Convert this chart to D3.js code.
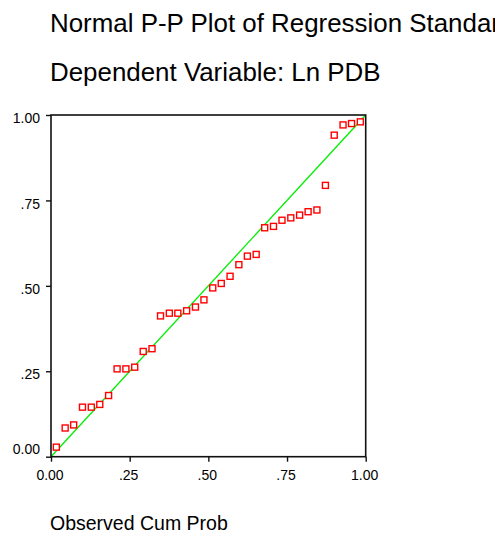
<!DOCTYPE html>
<html>
<head>
<meta charset="utf-8">
<script src="https://cdn.jsdelivr.net/npm/d3@7"></script>
<style>
  html, body { margin: 0; padding: 0; background: #fff; }
  svg { display: block; font-family: "Liberation Sans", Arial, sans-serif; }
</style>
</head>
<body>
<svg id="chart" width="495" height="533"></svg>
<script>
// Observed cumulative probabilities (x) and expected cumulative probabilities (y)
const observed = [0.017,0.045,0.072,0.100,0.128,0.155,0.183,0.210,0.238,0.266,0.293,0.321,
                  0.348,0.376,0.403,0.431,0.459,0.486,0.514,0.541,0.569,0.597,0.624,0.652,
                  0.679,0.707,0.734,0.762,0.790,0.817,0.845,0.872,0.900,0.928,0.955,0.983];
const expected = [0.028,0.084,0.093,0.145,0.145,0.153,0.179,0.257,0.257,0.262,0.308,0.316,
                  0.412,0.420,0.420,0.427,0.438,0.459,0.494,0.507,0.528,0.562,0.587,0.592,
                  0.670,0.674,0.692,0.699,0.707,0.717,0.722,0.794,0.941,0.971,0.975,0.980];
const tickValues = [0, 0.25, 0.5, 0.75, 1];
const tickLabels = ["0.00", ".25", ".50", ".75", "1.00"];
const titleText = "Normal P-P Plot of Regression Standardized Residual";
const subtitleText = "Dependent Variable: Ln PDB";
const xAxisTitle = "Observed Cum Prob";

const svg = d3.select("#chart");
const x = d3.scaleLinear().domain([0, 1]).range([51, 365.7]);
const y = d3.scaleLinear().domain([0, 1]).range([456.7, 115]);

// Titles
svg.append("text").attr("x", 50).attr("y", 31.5)
  .attr("font-size", 25.9).attr("fill", "#000").text(titleText);
svg.append("text").attr("x", 50).attr("y", 81)
  .attr("font-size", 25.9).attr("fill", "#000").text(subtitleText);

// Reference line
svg.append("line")
  .attr("x1", x(0)).attr("y1", y(0)).attr("x2", x(1)).attr("y2", y(1))
  .attr("stroke", "#00ee00").attr("stroke-width", 1.3);

// Frame
svg.append("rect")
  .attr("x", x(0)).attr("y", y(1))
  .attr("width", x(1) - x(0)).attr("height", y(0) - y(1))
  .attr("fill", "none").attr("stroke", "#111").attr("stroke-width", 1.6);

// Axes
const fmt = (d, i) => tickLabels[i];
const xAxis = svg.append("g").attr("transform", `translate(0,${y(0)})`)
  .call(d3.axisBottom(x).tickValues(tickValues).tickFormat(fmt).tickSize(5).tickPadding(8));
const yAxis = svg.append("g").attr("transform", `translate(${x(0)},0)`)
  .call(d3.axisLeft(y).tickValues(tickValues).tickFormat(fmt).tickSize(5).tickPadding(6));

[xAxis, yAxis].forEach(g => {
  g.select(".domain").remove();
  g.selectAll(".tick line").attr("stroke", "#111").attr("stroke-width", 1.4);
  g.selectAll(".tick text").attr("font-size", 14).attr("fill", "#000")
    .attr("font-family", '"Liberation Sans", Arial, sans-serif');
});
xAxis.selectAll(".tick text").attr("dx", -1.5);
yAxis.selectAll(".tick text").attr("dy", (d) => d === 0 ? "-0.25em" : "0.55em");

// Points
svg.append("g").selectAll("rect")
  .data(observed.map((o, i) => [o, expected[i]]))
  .join("rect")
  .attr("x", d => x(d[0]) - 3)
  .attr("y", d => y(d[1]) - 3)
  .attr("width", 6).attr("height", 6)
  .attr("fill", "#fff").attr("stroke", "#ff0000").attr("stroke-width", 1.4);

// Axis title
svg.append("text").attr("x", 50).attr("y", 530)
  .attr("font-size", 19.5).attr("fill", "#000").text(xAxisTitle);
</script>
</body>
</html>
